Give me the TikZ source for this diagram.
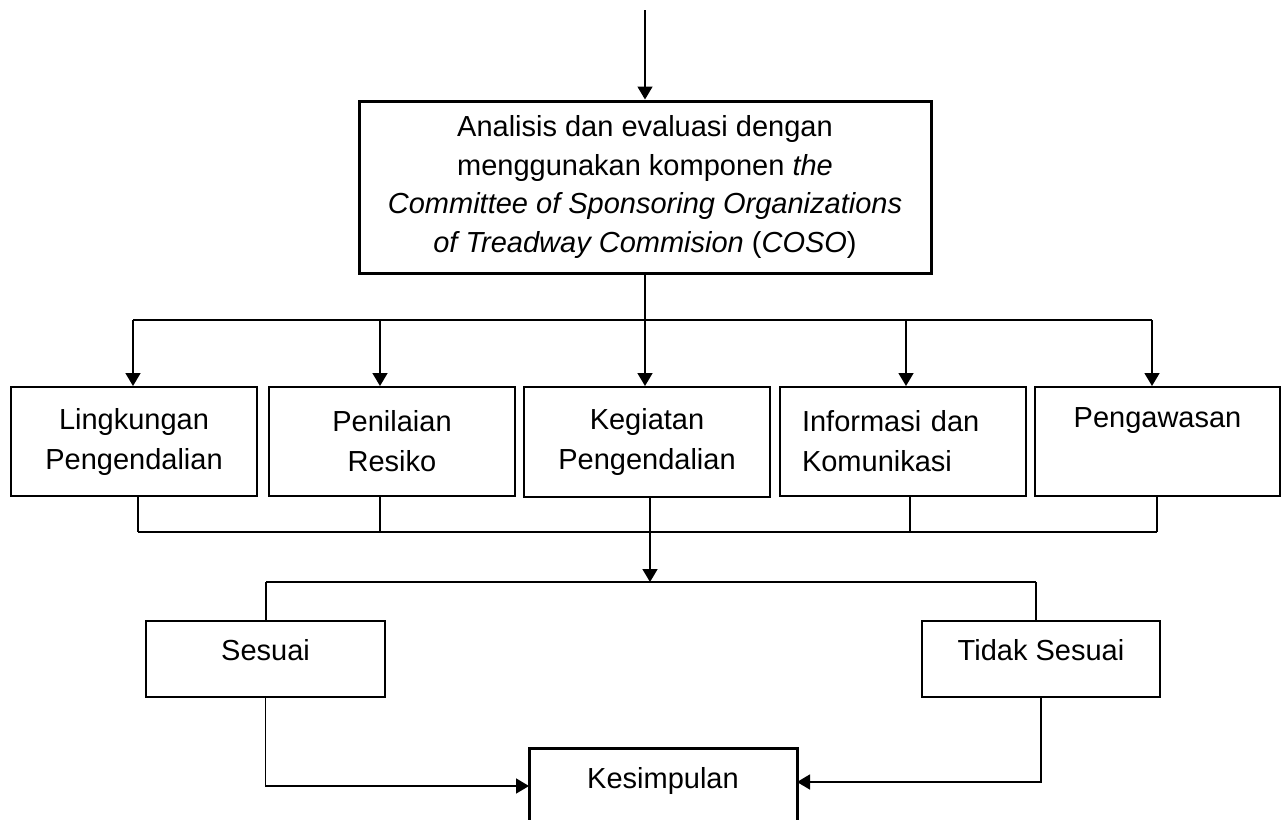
\documentclass[tikz,border=0pt]{standalone}
\usepackage{fontspec}
\setmainfont{Liberation Sans}
\usetikzlibrary{arrows.meta}

\begin{document}
\begin{tikzpicture}[x=0.5pt, y=-0.5pt,
    box/.style={draw, line width=1pt, inner sep=0pt, align=center,
      font=\fontsize{14.5}{20}\selectfont},
    bigbox/.style={box, line width=1.5pt},
    arr/.style={line width=0.8pt, -{Triangle[width=7.5pt,length=6.5pt]}},
    link/.style={line width=0.8pt}]
  \useasboundingbox (0,0) rectangle (1288,819);
  \clip (0,0) rectangle (1288,819);

  \node[bigbox, minimum width=286pt, minimum height=86pt,
    font=\fontsize{14.5}{19.25}\selectfont] (main) at (645,187)
    {Analisis dan evaluasi dengan\\
     menggunakan komponen \textit{the}\\
     \textit{Committee of Sponsoring Organizations}\\
     \textit{of Treadway Commision} (\textit{COSO})};

  \node[box, minimum width=123pt, minimum height=54.5pt] (lingkungan) at (134,441.5)
    {Lingkungan\\Pengendalian};
  \node[box, minimum width=123pt, minimum height=54.5pt] (penilaian) at (392,441.5)
    {Penilaian\\Resiko};
  \node[box, minimum width=123pt, minimum height=55pt] (kegiatan) at (647,442)
    {Kegiatan\\Pengendalian};
  \node[box, align=left, text width=101pt, inner xsep=11pt, minimum height=54.5pt]
    (informasi) at (903,441.5) {Informasi dan\\Komunikasi};
  \node[box, minimum width=122.5pt, text height=20pt, text depth=34.5pt]
    (pengawasan) at (1157.5,441.5) {Pengawasan};

  \node[box, minimum width=119.5pt, text height=19.5pt, text depth=18.5pt]
    (sesuai) at (265.5,659) {Sesuai};
  \node[box, minimum width=119pt, text height=19.5pt, text depth=18.5pt]
    (tidak) at (1041,659) {Tidak Sesuai};
  \node[bigbox, anchor=north, minimum width=134pt, text height=20pt, text depth=40pt]
    (kesimpulan) at (663,747) {Kesimpulan};

  \coordinate (start) at (645,10);
  \coordinate (t1) at (133,320);
  \coordinate (t2) at (380,320);
  \coordinate (t3) at (906,320);
  \coordinate (t4) at (1152,320);
  \coordinate (b1) at (138,532);
  \coordinate (b2) at (380,532);
  \coordinate (b3) at (910,532);
  \coordinate (b4) at (1157,532);
  \coordinate (d0) at (650,582);
  \coordinate (dl) at (266,582);
  \coordinate (dr) at (1036,582);
  \coordinate (kin) at (529,786);
  \coordinate (kout) at (797,782);

  \draw[arr] (start) -- (main);
  \draw[arr] (main.south) -- (main.south |- kegiatan.north);

  \draw[link] (t1) -- (t4);
  \draw[arr] (t1) -- (t1 |- lingkungan.north);
  \draw[arr] (t2) -- (t2 |- penilaian.north);
  \draw[arr] (t3) -- (t3 |- informasi.north);
  \draw[arr] (t4) -- (t4 |- pengawasan.north);

  \draw[link] (b1) -- (b4);
  \draw[link] (b1 |- lingkungan.south) -- (b1);
  \draw[link] (b2 |- penilaian.south) -- (b2);
  \draw[link] (b3 |- informasi.south) -- (b3);
  \draw[link] (b4 |- pengawasan.south) -- (b4);

  \draw[arr] (d0 |- kegiatan.south) -- (d0);
  \draw[link] (dl) -- (dr);
  \draw[link] (dl) -- (dl |- sesuai.north);
  \draw[link] (dr) -- (dr |- tidak.north);

  \draw[arr] (sesuai.south) |- (kin);
  \draw[arr] (tidak.south) |- (kout);
\end{tikzpicture}
\end{document}
